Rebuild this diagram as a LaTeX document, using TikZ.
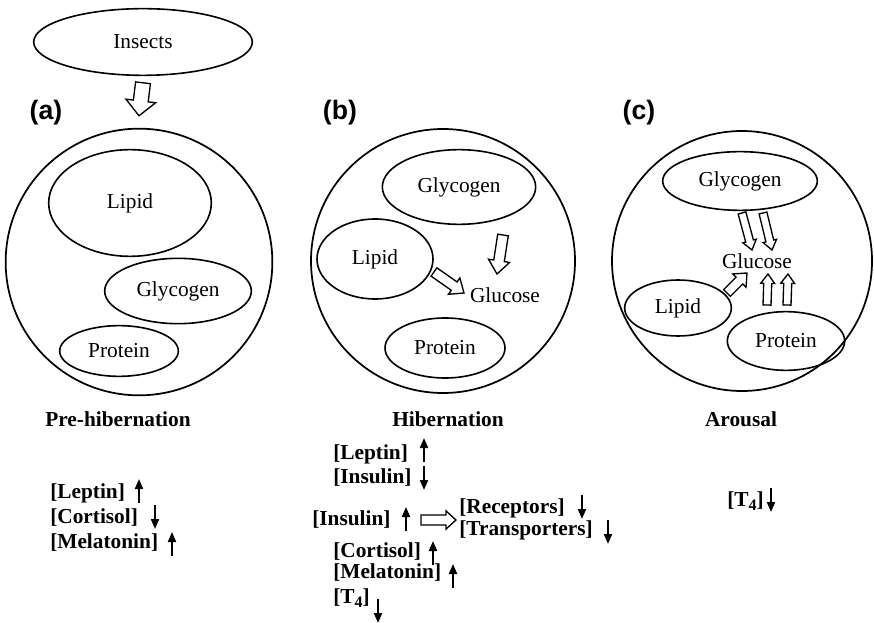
\documentclass[tikz,border=0pt]{standalone}
\usepackage{fontspec}
\setmainfont{Liberation Serif}
\newfontfamily\labelfont{Liberation Sans}
\usetikzlibrary{shapes.geometric,arrows.meta,calc}

\tikzset{
  compartment/.style={draw, ellipse, line width=1.2pt, inner sep=0pt},
  cell/.style={draw, circle, line width=1.3pt, inner sep=0pt},
  panel/.style={font=\labelfont\bfseries\fontsize{20}{24}\selectfont},
  stage/.style={font=\bfseries\fontsize{16}{19}\selectfont},
  hormone/.style={anchor=west, inner sep=0pt, font=\bfseries\fontsize{16}{19}\selectfont},
  hormarrow/.style={line width=1.5pt, -{Triangle[length=7.5pt,width=6pt]}},
  fatarrow/.style={draw, line width=1pt, fill=white, line join=miter}
}

% hollow block arrow: from, to, shaft half width, head half width, head length
\newcommand{\hollowarrow}[5]{%
  \draw[fatarrow] let \p1=($(#2)-(#1)$), \n1={atan2(\y1,\x1)}, \n2={veclen(\x1,\y1)} in
    [shift={(#1)}, rotate=\n1]
    (0pt,-#3) -- ({\n2-#5},-#3) -- ({\n2-#5},-#4) -- (\n2,0pt)
    -- ({\n2-#5},#4) -- ({\n2-#5},#3) -- (0pt,#3) -- cycle;}
\newcommand{\levelup}[2]{\draw[hormarrow] (#1,#2+12) -- (#1,#2-12);}
\newcommand{\leveldown}[2]{\draw[hormarrow] (#1,#2-12) -- (#1,#2+12);}

\begin{document}
\begin{tikzpicture}[x=0.75pt, y=-0.75pt, font=\fontsize{16}{19}\selectfont]
\useasboundingbox (0,0) rectangle (874,623);

% (a) Pre-hibernation
\node[compartment, minimum width=164pt, minimum height=50pt] (insects) at (143,42) {Insects};
\node[panel] (taga) at (46,113) {(a)};
\node[cell, minimum size=200pt] (cella) at (139,262) {};
\node[compartment, minimum width=122pt, minimum height=80pt] (lipa) at (130,203) {Lipid};
\node[compartment, minimum width=110pt, minimum height=49pt] (glya) at (178,291) {Glycogen};
\node[compartment, minimum width=89pt, minimum height=38pt] (prota) at (119,351) {Protein};
\coordinate (ins-out) at ([yshift=-5pt]insects.south);
\coordinate (ins-in) at ([yshift=9pt]cella.north);
\hollowarrow{ins-out}{ins-in}{5.6pt}{11.2pt}{11.2pt}
\node[stage] (pre) at (118,419) {Pre-hibernation};

\node[hormone] (lepa) at (50,493) {[Leptin]};
\node[hormone] (cora) at (50,518) {[Cortisol]};
\node[hormone] (mela) at (50,543) {[Melatonin]};
\levelup{139}{491}
\leveldown{155}{517}
\levelup{172}{544}

% (b) Hibernation
\node[panel] (tagb) at (340,113) {(b)};
\node[cell, minimum size=198pt] (cellb) at (443,261) {};
\node[compartment, minimum width=115pt, minimum height=56pt] (glyb) at (459,187) {Glycogen};
\node[compartment, minimum width=87pt, minimum height=60pt] (lipb) at (375,259) {Lipid};
\node[compartment, minimum width=90pt, minimum height=45pt] (protb) at (445,348) {Protein};
\node[inner sep=0pt] (glub) at (505,295) {Glucose};
\coordinate (b-lip-out) at (434,272);
\coordinate (b-lip-in) at (464,293);
\coordinate (b-gly-out) at (503,235);
\coordinate (b-gly-in) at (497,274);
\hollowarrow{b-lip-out}{b-lip-in}{3.8pt}{7.5pt}{9pt}
\hollowarrow{b-gly-out}{b-gly-in}{4pt}{8pt}{10pt}
\node[stage] (hib) at (448,419) {Hibernation};

\node[hormone] (lepb) at (333,454) {[Leptin]};
\node[hormone] (insb) at (333,478) {[Insulin]};
\node[hormone] (insc) at (312,520) {[Insulin]};
\node[hormone] (rec) at (459,508) {[Receptors]};
\node[hormone] (tra) at (459,530) {[Transporters]};
\node[hormone] (corb) at (333,552) {[Cortisol]};
\node[hormone] (melb) at (333,573) {[Melatonin]};
\node[hormone] (tb) at (333,598) {[T\raisebox{-3pt}{\fontsize{12}{14}\selectfont 4}]};
\levelup{424}{450}
\leveldown{424}{478}
\levelup{406}{519}
\leveldown{582}{507}
\leveldown{608}{532}
\levelup{433}{553}
\levelup{453}{576}
\leveldown{378}{611}
\coordinate (ins-tail) at (421,520);
\coordinate (ins-tip) at (456,520);
\hollowarrow{ins-tail}{ins-tip}{3.75pt}{6.8pt}{7.5pt}

% (c) Arousal
\node[panel] (tagc) at (639,113) {(c)};
\node[cell, minimum size=195pt] (cellc) at (742,261) {};
\node[compartment, minimum width=116pt, minimum height=44pt] (glyc) at (740,181) {Glycogen};
\node[compartment, minimum width=80pt, minimum height=42pt] (lipc) at (678,308) {Lipid};
\node[compartment, minimum width=88pt, minimum height=44pt] (protc) at (786,341) {Protein};
\node[inner sep=0pt] (gluc) at (757,261) {Glucose};
\coordinate (c-gly1-out) at (742,213);
\coordinate (c-gly1-in) at (752,250);
\coordinate (c-gly2-out) at (763,213);
\coordinate (c-gly2-in) at (772,250);
\coordinate (c-pro1-out) at (767,305);
\coordinate (c-pro1-in) at (768,274);
\coordinate (c-pro2-out) at (787,305);
\coordinate (c-pro2-in) at (788,274);
\coordinate (c-lip-out) at (727,293);
\coordinate (c-lip-in) at (747,273);
\hollowarrow{c-gly1-out}{c-gly1-in}{3pt}{5.2pt}{7pt}
\hollowarrow{c-gly2-out}{c-gly2-in}{3pt}{5.2pt}{7pt}
\hollowarrow{c-pro1-out}{c-pro1-in}{3pt}{5.2pt}{7pt}
\hollowarrow{c-pro2-out}{c-pro2-in}{3pt}{5.2pt}{7pt}
\hollowarrow{c-lip-out}{c-lip-in}{3.6pt}{7pt}{8pt}
\node[stage] (aro) at (741,419) {Arousal};

\node[hormone] (tc) at (727,501) {[T\raisebox{-3pt}{\fontsize{12}{14}\selectfont 4}]};
\leveldown{771}{500}
\end{tikzpicture}
\end{document}
